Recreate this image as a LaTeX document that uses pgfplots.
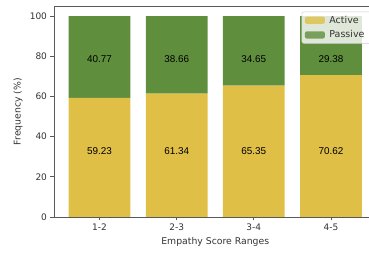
\documentclass[border=0pt]{standalone}
\usepackage{pgfplots}
\pgfplotsset{compat=1.18}
\usepackage{fontspec}
\setmainfont{DejaVu Sans}
\newfontfamily\lib{Liberation Sans}
\definecolor{activeC}{HTML}{E0BF47}
\definecolor{passiveC}{HTML}{5F8F3D}
\begin{document}
\begin{tikzpicture}
\useasboundingbox (-54pt,-36pt) rectangle (315pt,217pt);
\clip (-54pt,-36pt) rectangle (315pt,217pt);
\begin{axis}[
  at={(0,0)}, anchor=south west,
  scale only axis, width=322.5pt, height=211pt,
  ybar stacked, bar width=0.8,
  xmin=-0.59, xmax=3.59, ymin=0, ymax=105,
  xtick={0,1,2,3}, xticklabels={1-2,2-3,3-4,4-5},
  ytick={0,20,40,60,80,100},
  tick align=outside, major tick length=3.5pt,
  xtick pos=bottom, ytick pos=left,
  axis line style={black!65, line width=0.8pt},
  tick style={black!65, line width=0.8pt},
  /pgf/number format/assume math mode=true,
  tick label style={font=\fontsize{9}{10}\selectfont, text=black!80},
  label style={font=\fontsize{9.3}{10}\selectfont, text=black!80},
  xlabel={Empathy Score Ranges},
  ylabel={Frequency (\%)},
  xlabel style={at={([yshift=-24.7pt]axis description cs:0.5,0)}, anchor=center},
  ylabel style={at={([xshift=-36pt]axis description cs:0,0.5)}, anchor=center},
  legend style={at={(rel axis cs:0.768,1)}, anchor=north west, yshift=-5.7pt,
    draw=black!20, fill=white, fill opacity=0.8, text opacity=1, rounded corners=2pt,
    font=\fontsize{9.5}{10}\selectfont, text=black!80, inner xsep=3pt, inner ysep=1pt,
    row sep=0pt, nodes={inner xsep=4.5pt, inner ysep=3pt}},
  legend cell align=left,
  legend image code/.code={\fill[#1] (1pt,-3.6pt) rectangle (21pt,3.6pt);},
]
\addplot[fill=activeC, draw=none] coordinates {(0,59.23) (1,61.34) (2,65.35) (3,70.62)};
\addplot[fill=passiveC, draw=none] coordinates {(0,40.77) (1,38.66) (2,34.65) (3,29.38)};
\legend{Active, Passive}
\coordinate (a0) at (axis cs:0,32.6);
\coordinate (a1) at (axis cs:1,32.6);
\coordinate (a2) at (axis cs:2,32.6);
\coordinate (a3) at (axis cs:3,32.6);
\coordinate (p0) at (axis cs:0,78.4);
\coordinate (p1) at (axis cs:1,78.4);
\coordinate (p2) at (axis cs:2,78.4);
\coordinate (p3) at (axis cs:3,78.4);
\end{axis}
\begin{scope}[every node/.style={font=\lib\fontsize{9.9}{11}\selectfont, text=black}]
\node at (a0) {59.23};
\node at (a1) {61.34};
\node at (a2) {65.35};
\node at (a3) {70.62};
\node at (p0) {40.77};
\node at (p1) {38.66};
\node at (p2) {34.65};
\node at (p3) {29.38};
\end{scope}
\end{tikzpicture}
\end{document}
